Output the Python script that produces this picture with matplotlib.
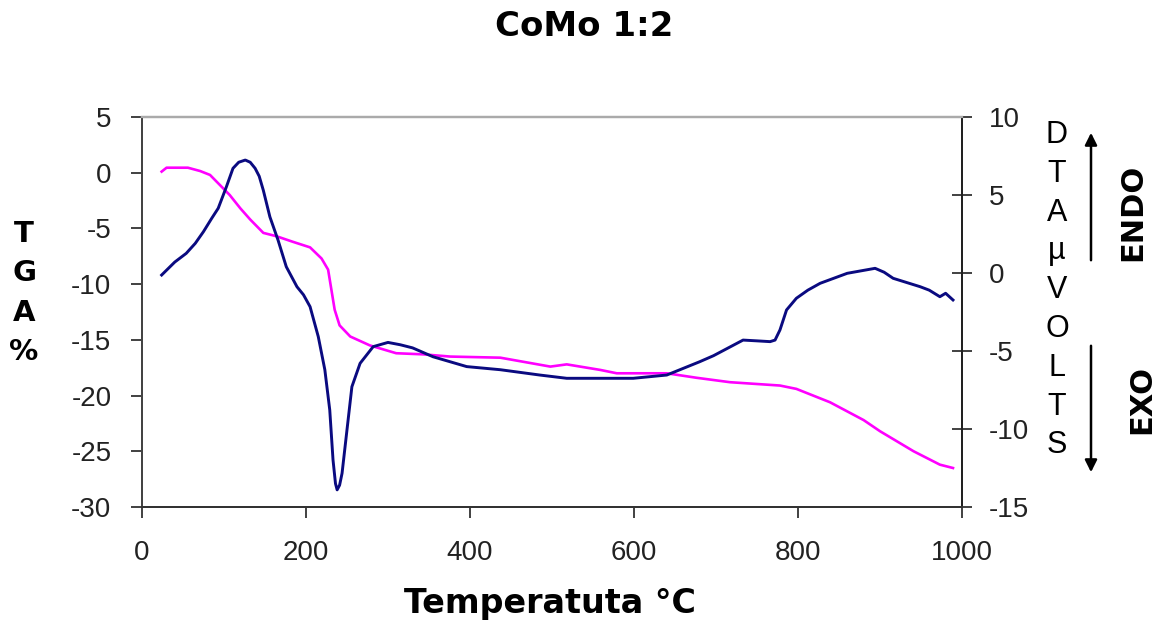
import matplotlib
matplotlib.use("Agg")
import matplotlib.pyplot as plt

# TGA curve (left axis, %)
tga_temp = [24, 30, 56, 71, 83, 95, 107, 120, 132, 148, 164, 184, 205, 219, 227,
            231, 235, 241, 254, 278, 310, 343, 376, 437, 498, 518, 559, 579, 640,
            676, 717, 778, 798, 839, 880, 900, 941, 973, 989]
tga_val = [0.1, 0.45, 0.45, 0.15, -0.2, -1.1, -2.0, -3.2, -4.2, -5.4, -5.7, -6.2,
           -6.7, -7.7, -8.7, -10.5, -12.3, -13.7, -14.7, -15.5, -16.2, -16.3, -16.5,
           -16.6, -17.4, -17.2, -17.7, -18.0, -18.0, -18.4, -18.8, -19.1, -19.4,
           -20.6, -22.2, -23.2, -25.0, -26.2, -26.5]

# DTA curve (right axis, microvolts)
dta_temp = [24, 40, 54, 65, 75, 85, 93, 103, 111, 118, 126, 132, 138, 143, 148,
            156, 166, 176, 189, 197, 205, 215, 223, 229, 233, 236, 238, 241, 244,
            250, 256, 266, 282, 300, 315, 330, 355, 396, 437, 485, 518, 560, 599,
            640, 680, 697, 733, 750, 766, 772, 778, 786, 798, 812, 827, 860, 894,
            905, 916, 949, 960, 973, 980, 989]
dta_val = [-0.13, 0.7, 1.26, 1.9, 2.65, 3.5, 4.15, 5.53, 6.71, 7.1, 7.24, 7.1, 6.71,
           6.2, 5.3, 3.6, 2.1, 0.4, -0.88, -1.4, -2.16, -4.08, -6.2, -8.78, -11.99,
           -13.5, -13.9, -13.6, -12.84, -10.06, -7.29, -5.79, -4.72, -4.45, -4.6,
           -4.8, -5.37, -6.0, -6.2, -6.54, -6.75, -6.75, -6.75, -6.54, -5.69, -5.3,
           -4.3, -4.35, -4.4, -4.3, -3.65, -2.37, -1.62, -1.1, -0.66, -0.02, 0.30,
           0.05, -0.34, -0.88, -1.1, -1.52, -1.3, -1.73]

x_ticks = [0, 200, 400, 600, 800, 1000]
left_ticks = [5, 0, -5, -10, -15, -20, -25, -30]
left_labels = ["5", "0", "-5", "-10", "-15", "-20", "-25", "-30"]
right_ticks = [10, 5, 0, -5, -10, -15]
right_labels = ["10", "5", "0", "-5", "-10", "-15"]

TICK_FONT = "Liberation Sans"
BOLD_FONT = "DejaVu Sans"

fig = plt.figure(figsize=(11.56, 6.24), dpi=100)
ax = fig.add_axes([0.1228, 0.1875, 0.7094, 0.625])
ax2 = ax.twinx()

ax.plot(tga_temp, tga_val, color="#FF00FF", lw=1.9)
ax2.plot(dta_temp, dta_val, color="#0a0a80", lw=2.1)

ax.set_xlim(0, 1000)
ax.set_ylim(-30, 5)
ax2.set_ylim(-15, 10)

ax.set_xticks(x_ticks)
ax.set_xticklabels([str(t) for t in x_ticks], fontfamily=TICK_FONT, fontsize=20, color="#222222")
ax.set_yticks(left_ticks)
ax.set_yticklabels(left_labels, fontfamily=TICK_FONT, fontsize=20, color="#222222")
ax2.set_yticks(right_ticks)
ax2.set_yticklabels(right_labels, fontfamily=TICK_FONT, fontsize=20, color="#222222")

ax.tick_params(axis="y", direction="out", length=8, width=1.3, pad=14, color="#333333")
ax.tick_params(axis="x", direction="out", length=8, width=1.3, pad=16, color="#333333")
ax2.tick_params(axis="y", direction="inout", length=15, width=1.3, pad=12, color="#333333")

for a in (ax, ax2):
    a.spines["top"].set_color("#aaaaaa")
    a.spines["top"].set_linewidth(1.6)
    a.spines["left"].set_color("#444444")
    a.spines["bottom"].set_color("#333333")
    a.spines["right"].set_color("#222222")
    for s in ("left", "bottom", "right"):
        a.spines[s].set_linewidth(1.4)

# titles
fig.text(584 / 1156, 1 - 26 / 624, "CoMo 1:2", ha="center", va="center",
         fontsize=24.5, fontweight="bold", family=BOLD_FONT)
fig.text(550 / 1156, 1 - 603 / 624, "Temperatuta °C", ha="center", va="center",
         fontsize=24, fontweight="bold", family=BOLD_FONT)

# left label, stacked letters
for i, ch in enumerate("TGA%"):
    fig.text(24 / 1156, 1 - (234 + i * 39.3) / 624, ch, ha="center", va="center",
             fontsize=21, fontweight="bold", family=BOLD_FONT)

# right label, stacked letters
for i, ch in enumerate("DTAµVOLTS"):
    fig.text(1057 / 1156, 1 - (135 + i * 38.8) / 624, ch, ha="center", va="center",
             fontsize=22, family=TICK_FONT)

# endo / exo arrows
ax.annotate("", xy=(1091 / 1156, 1 - 130 / 624), xytext=(1091 / 1156, 1 - 263 / 624),
            xycoords="figure fraction", textcoords="figure fraction",
            arrowprops=dict(arrowstyle="-|>", color="black", lw=1.8, mutation_scale=18))
ax.annotate("", xy=(1091 / 1156, 1 - 475 / 624), xytext=(1091 / 1156, 1 - 343 / 624),
            xycoords="figure fraction", textcoords="figure fraction",
            arrowprops=dict(arrowstyle="-|>", color="black", lw=1.8, mutation_scale=18))
fig.text(1133 / 1156, 1 - 212 / 624, "ENDO", rotation=90, ha="center", va="center",
         fontsize=22, fontweight="heavy", family=BOLD_FONT)
fig.text(1142 / 1156, 1 - 400 / 624, "EXO", rotation=90, ha="center", va="center",
         fontsize=22, fontweight="heavy", family=BOLD_FONT)

fig.savefig("out.png", dpi=100)
